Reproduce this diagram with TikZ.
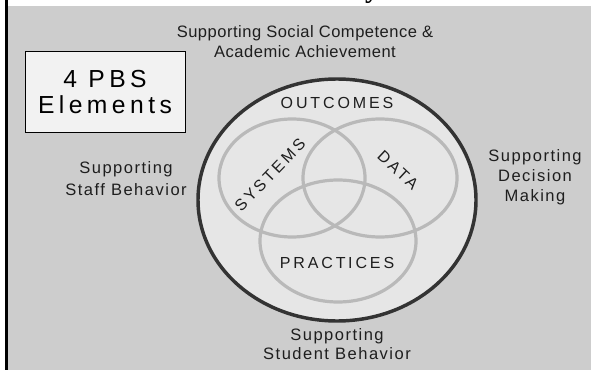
\documentclass[tikz,border=0pt]{standalone}
\usepackage{fontspec}
\setmainfont{Liberation Sans}
\newfontfamily\spacedfont[LetterSpace=9]{Liberation Sans}
\newfontfamily\widefont[LetterSpace=18]{Liberation Sans}
\newfontfamily\titleserif{Liberation Serif}
\definecolor{bggray}{HTML}{CDCDCD}
\definecolor{ringfill}{HTML}{E6E6E6}
\definecolor{ringdark}{HTML}{333333}
\definecolor{ringlight}{HTML}{B9B9B9}
\definecolor{inkgray}{HTML}{1E1E1E}
\definecolor{boxfill}{HTML}{F2F2F2}
\tikzset{
  lbl/.style={text=inkgray, inner sep=0pt, align=center, font=\spacedfont\fontsize{12.4}{15}\selectfont},
  ringlbl/.style={text=inkgray, inner sep=0pt, font=\widefont\fontsize{12}{14}\selectfont},
  venn/.style={draw=ringlight, line width=2.4pt},
}
\begin{document}
\begin{tikzpicture}[x=0.75pt, y=-0.75pt]
\useasboundingbox (0,0) rectangle (591,370);
\fill[white] (0,0) rectangle (591,370);
\fill[bggray] (8,6) rectangle (591,370);
\fill[black] (5,0) rectangle (8,370);
% clipped remnant of title
\begin{scope}
  \clip (0,0) rectangle (591,6);
  \node[anchor=base, inner sep=0pt, font=\titleserif\bfseries\fontsize{21}{24}\selectfont] (ttl) at (372,-2.5) {y};
\end{scope}
% big outer ellipse
\draw[fill=ringfill, draw=ringdark, line width=2.6pt] (337,200) ellipse [x radius=139, y radius=121];
% venn circles
\draw[venn] (292,178) ellipse [x radius=73, y radius=59];
\draw[venn] (380,178) ellipse [x radius=77, y radius=59];
\draw[venn] (338,241) ellipse [x radius=78, y radius=61];
% ring labels
\node[ringlbl] (outcomes) at (337,103) {OUTCOMES};
\node[ringlbl] (practices) at (337,263) {PRACT\,ICES};
\node[ringlbl, rotate=46] (systems) at (270,175) {SYSTEMS};
\node[ringlbl, rotate=-43] (data) at (398,170) {DATA};
% title box
\node[draw=black, line width=0.75pt, fill=boxfill, minimum width=160*0.75pt, minimum height=81*0.75pt, inner sep=0pt, align=center, text=black, font=\widefont\fontsize{18.5}{19.5}\selectfont] (box) at (105,92.5) {4 PBS\\Elements};
% outer labels
\node[lbl, font=\fontsize{12.4}{15}\selectfont\addfontfeatures{LetterSpace=3}] (social) at (305,42) {Supporting Social Competence \&\\Academic Achievement};
\node[lbl, font=\spacedfont\fontsize{12.4}{16.5}\selectfont] (staff) at (126,179) {Supporting\\Staff Behavior};
\node[lbl] (decision) at (535,177) {Supporting\\Decision\\Making};
\node[lbl, font=\spacedfont\fontsize{12.4}{14}\selectfont] (student) at (337,344) {Supporting\\Student Behavior};
\end{tikzpicture}
\end{document}
